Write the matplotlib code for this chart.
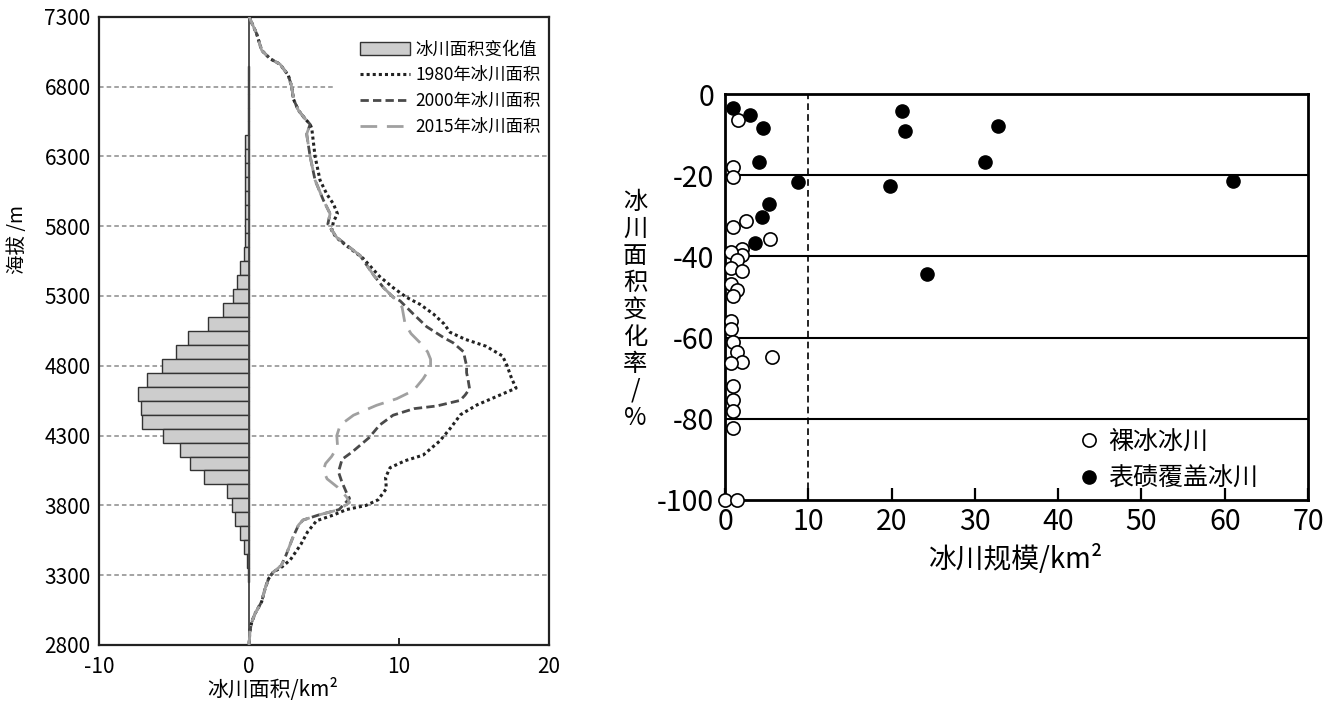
import matplotlib
matplotlib.use("Agg")
import matplotlib.pyplot as plt
from matplotlib.patches import Patch
from matplotlib.lines import Line2D

plt.rcParams['font.family'] = ['Noto Sans CJK SC', 'DejaVu Sans']
plt.rcParams['axes.unicode_minus'] = False

# ---------------- left chart data ----------------
bar_alt = [6900, 6800, 6700, 6600, 6500, 6400, 6300, 6200, 6100, 6000, 5900, 5800, 5700,
           5600, 5500, 5400, 5300, 5200, 5100, 5000, 4900, 4800, 4700, 4600, 4500, 4400,
           4300, 4200, 4100, 4000, 3900, 3800, 3700, 3600, 3500, 3400, 3300]
bar_change = [-0.1, -0.1, -0.1, -0.1, -0.1, -0.3, -0.3, -0.3, -0.3, -0.3, -0.3, -0.3, -0.3,
              -0.35, -0.63, -0.8, -1.09, -1.71, -2.71, -4.04, -4.87, -5.78, -6.82, -7.42, -7.22, -7.11,
              -5.71, -4.6, -3.93, -2.98, -1.49, -1.16, -0.91, -0.6, -0.31, -0.15, -0.05]

alt_1980 = [7300, 7180, 7060, 7000, 6960, 6880, 6800, 6710, 6630, 6570, 6530, 6500, 6300, 6130,
            6030, 5960, 5890, 5830, 5770, 5720, 5660, 5570, 5440, 5360, 5290, 5240, 5170, 5100,
            5040, 4990, 4940, 4870, 4800, 4710, 4640, 4580, 4520, 4450, 4350, 4260, 4160, 4120,
            4070, 4000, 3920, 3840, 3800, 3770, 3730, 3690, 3610, 3520, 3410, 3360, 3320, 3275,
            3205, 3110, 3025, 2965, 2895, 2800]
area_1980 = [0, 0.5, 0.84, 1.4, 2.07, 2.62, 2.84, 2.96, 3.29, 3.73, 4.07, 4.18, 4.4, 4.73,
             5.18, 5.62, 5.89, 5.62, 5.51, 5.8, 6.5, 7.6, 8.7, 9.6, 10.5, 11.4, 12.3, 13.0,
             13.4, 14.4, 15.8, 16.9, 17.2, 17.5, 17.8, 16.5, 15.2, 14.1, 13.4, 12.7, 11.6, 10.4,
             9.4, 9.1, 9.15, 8.6, 7.8, 6.5, 5.6, 4.5, 3.9, 3.45, 2.75, 2.2, 1.6, 1.3,
             1.07, 0.84, 0.4, 0.18, 0.05, 0]

alt_2000 = [7300, 7180, 7060, 7000, 6960, 6880, 6800, 6710, 6630, 6570, 6530, 6460, 6300, 6130,
            5985, 5890, 5815, 5720, 5590, 5450, 5360, 5290, 5265, 5170, 5080, 5000, 4965, 4900,
            4847, 4800, 4750, 4700, 4635, 4590, 4552, 4512, 4493, 4446, 4375, 4285, 4185, 4130,
            4040, 3970, 3890, 3850, 3770, 3730, 3695, 3660, 3565, 3440, 3370, 3320, 3275, 3205,
            3110, 3025, 2965, 2895, 2800]
area_2000 = [0, 0.5, 0.84, 1.4, 2.07, 2.62, 2.84, 2.96, 3.29, 3.73, 4.07, 3.84, 4.07, 4.4,
             4.96, 5.4, 5.25, 5.84, 7.4, 8.3, 8.96, 9.62, 10.07, 10.96, 11.84, 13.0, 13.6, 14.3,
             14.4, 14.5, 14.5, 14.6, 14.7, 14.4, 14.07, 12.5, 11.0, 9.6, 8.7, 8.0, 6.9, 6.2,
             5.96, 6.18, 6.5, 6.7, 6.0, 4.6, 3.6, 3.3, 2.9, 2.45, 2.15, 1.6, 1.3, 1.07,
             0.84, 0.4, 0.18, 0.05, 0]

alt_2015 = [7300, 7180, 7060, 7000, 6960, 6880, 6800, 6710, 6630, 6570, 6530, 6460, 6300, 6130,
            5985, 5890, 5815, 5720, 5590, 5450, 5360, 5290, 5220, 5100, 5030, 4965, 4900, 4847,
            4800, 4740, 4706, 4623, 4564, 4517, 4446, 4375, 4300, 4220, 4150, 4100, 4050, 3990,
            3930, 3860, 3820, 3770, 3730, 3695, 3660, 3565, 3440, 3370, 3320, 3275, 3205, 3110,
            3025, 2965, 2895, 2800]
area_2015 = [0, 0.5, 0.84, 1.4, 2.07, 2.62, 2.84, 2.96, 3.29, 3.73, 4.07, 3.84, 4.07, 4.4,
             4.96, 5.4, 5.25, 5.84, 7.4, 8.3, 8.96, 9.62, 10.2, 10.4, 10.8, 11.4, 11.9, 12.1,
             12.1, 11.8, 11.6, 10.96, 9.84, 8.5, 6.96, 6.07, 5.85, 5.9, 5.5, 5.1, 4.95, 5.2,
             5.9, 6.5, 6.7, 6.0, 4.6, 3.6, 3.3, 2.9, 2.45, 2.15, 1.6, 1.3, 1.07, 0.84,
             0.4, 0.18, 0.05, 0]

left_yticks = [2800, 3300, 3800, 4300, 4800, 5300, 5800, 6300, 6800, 7300]
left_xticks = [-10, 0, 10, 20]

# ---------------- right chart data ----------------
bare_x = [1.5, 0.9, 0.9, 2.5, 0.9, 5.4, 2.0, 2.0, 0.7, 1.4, 0.7, 2.0, 0.7, 1.4, 1.0, 0.7, 0.7,
          1.0, 1.4, 2.0, 0.7, 5.6, 1.0, 1.0, 1.0, 1.0, 0.0, 1.4]
bare_y = [-6.3, -18.0, -20.4, -31.2, -32.8, -35.6, -38.2, -39.6, -39.0, -40.9, -42.8, -43.7, -46.8,
          -48.2, -49.8, -56.0, -58.0, -61.0, -63.5, -66.1, -66.3, -64.8, -72.0, -75.4, -78.2, -82.2,
          -100, -100]
debris_x = [0.9, 3.0, 4.5, 4.1, 8.8, 5.3, 4.4, 3.6, 21.3, 21.6, 19.8, 24.3, 31.2, 32.8, 61.0]
debris_y = [-3.4, -5.2, -8.4, -16.8, -21.6, -27.0, -30.3, -36.8, -4.3, -9.1, -22.6, -44.3, -16.8,
            -7.9, -21.4]
right_xticks = [0, 10, 20, 30, 40, 50, 60, 70]
right_yticks = [0, -20, -40, -60, -80, -100]

fig = plt.figure(figsize=(13.35, 7.09), dpi=100)

# ================= left panel =================
ax1 = fig.add_axes([0.0742, 0.0903, 0.3371, 0.886])
ax1.set_xlim(-10, 20)
ax1.set_ylim(2800, 7300)
for y in left_yticks[1:-2]:
    ax1.axhline(y, color='#8a8a8a', ls=(0, (3, 2)), lw=1.1, zorder=1)
ax1.axhline(6800, xmin=0, xmax=0.525, color='#8a8a8a', ls=(0, (3, 2)), lw=1.1, zorder=1)

ax1.barh(bar_alt, bar_change, height=100, color='#cdcdcd', edgecolor='#333333',
         lw=1.0, zorder=2)
ax1.axvline(0, color='#444444', lw=1.3, zorder=3)
ax1.plot(area_1980, alt_1980, color='#222222', lw=2.2, ls=(0, (1, 1)), zorder=4)
ax1.plot(area_2000, alt_2000, color='#4a4a4a', lw=2.0, ls=(0, (3, 1.5)), zorder=5)
ax1.plot(area_2015, alt_2015, color='#a0a0a0', lw=2.0, ls=(0, (6, 3.5)), zorder=6)

ax1.set_xticks(left_xticks)
ax1.set_yticks(left_yticks)
ax1.tick_params(axis='x', direction='in', length=5, width=1.2, labelsize=15, pad=8)
ax1.tick_params(axis='y', length=0, labelsize=15, pad=6)
for sp in ax1.spines.values():
    sp.set_linewidth(1.6)
    sp.set_color('#222222')

handles = [Patch(facecolor='#cdcdcd', edgecolor='#333333', lw=1.0),
           Line2D([], [], color='#222222', lw=2.2, ls=(0, (1, 1))),
           Line2D([], [], color='#4a4a4a', lw=2.0, ls=(0, (3, 1.5))),
           Line2D([], [], color='#a0a0a0', lw=2.0, ls=(0, (6, 3.5)))]
labels = ['冰川面积变化值', '1980年冰川面积', '2000年冰川面积', '2015年冰川面积']
ax1.legend(handles, labels, loc='upper right', bbox_to_anchor=(0.985, 0.965), frameon=False,
           fontsize=12.5, handlelength=2.9, handletextpad=0.3, labelspacing=0.45,
           borderaxespad=0, borderpad=0.1, prop={'family': ['Noto Sans CJK SC'], 'size': 12.5})

ax1.set_xlabel('冰川面积/km²', fontsize=15)
ax1.xaxis.set_label_coords(0.385, -0.052)
fig.text(18 / 1335, 1 - 240 / 709, '海拔 /m', rotation=90, ha='center', va='center', fontsize=14)

# ================= right panel =================
ax2 = fig.add_axes([0.5431, 0.2948, 0.4367, 0.5726])
ax2.set_xlim(0, 70)
ax2.set_ylim(-100, 0)
for y in right_yticks[1:-1]:
    ax2.axhline(y, color='black', lw=1.5, zorder=1)
ax2.axvline(10, color='black', lw=1.2, ls=(0, (4, 2.5)), zorder=1)

ax2.plot(bare_x, bare_y, 'o', ms=9.5, mfc='white', mec='black', mew=1.2, ls='none',
         clip_on=False, zorder=3, label='裸冰冰川')
ax2.plot(debris_x, debris_y, 'o', ms=9.5, mfc='black', mec='black', ls='none',
         clip_on=False, zorder=4, label='表碛覆盖冰川')

ax2.set_xticks(right_xticks)
ax2.set_yticks(right_yticks)
ax2.tick_params(axis='x', direction='in', length=9, width=1.6, labelsize=20.5, pad=5)
ax2.tick_params(axis='y', length=0, labelsize=20.5, pad=8)
for sp in ax2.spines.values():
    sp.set_linewidth(2.0)

ax2.legend(loc='upper left', bbox_to_anchor=(0.612, 0.175), frameon=False, fontsize=18,
           handlelength=0.6, handletextpad=0.45, labelspacing=0.45, borderaxespad=0, borderpad=0)

ax2.set_xlabel('冰川规模/km²', fontsize=20, labelpad=6)
fig.text(635 / 1335, 1 - 310 / 709, '\n'.join('冰川面积变化率/%'), ha='center', va='center',
         fontsize=17.5, linespacing=1.05)

fig.savefig('out.png', dpi=100)
